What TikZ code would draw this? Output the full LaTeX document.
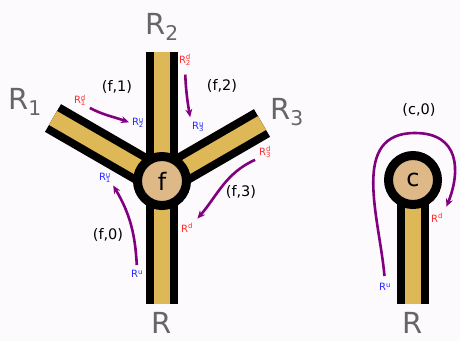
\documentclass[tikz,border=0pt]{standalone}
\usepackage{fontspec}
\setmainfont{DejaVu Sans}
\usetikzlibrary{arrows.meta, positioning}
\definecolor{pagebg}{RGB}{252,250,252}
\definecolor{bartan}{RGB}{222,183,86}
\definecolor{nodetan}{RGB}{222,184,135}
\definecolor{labgrey}{RGB}{102,102,102}
\definecolor{flowpurple}{RGB}{128,0,128}
\definecolor{downred}{RGB}{255,45,45}
\definecolor{upblue}{RGB}{40,40,255}

\begin{document}
\begin{tikzpicture}[x=1pt, y=-1pt, >={Stealth[length=8pt, width=7pt]},
  leg/.style={draw=black, line width=32pt},
  legfill/.style={draw=bartan, line width=16pt},
  vertex/.style={circle, draw=black, line width=9pt, fill=nodetan, minimum size=49pt,
    inner sep=0pt, font=\fontsize{24}{24}\selectfont},
  big/.style={text=labgrey, inner sep=0pt, font=\fontsize{29}{29}\selectfont},
  tag/.style={inner sep=0pt, font=\fontsize{14.5}{14.5}\selectfont},
  dlab/.style={text=downred, inner sep=1pt, font=\fontsize{10}{10}\selectfont},
  ulab/.style={dlab, text=upblue},
  flow/.style={->, draw=flowpurple, line width=2.6pt}]
  \path[use as bounding box, fill=pagebg] (0,0) rectangle (460,341);

  % the face f and its four legs
  \coordinate (fc) at (162,181);
  \coordinate (e0) at (162,304);
  \coordinate (e1) at (53,118);
  \coordinate (e2) at (162,52);
  \coordinate (e3) at (262,123);
  % the cap c and its leg
  \coordinate (cc) at (413,180);
  \coordinate (e4) at (413,304);
  \foreach \e in {e0,e1,e2,e3} \draw[leg] (fc) -- (\e);
  \foreach \e in {e0,e1,e2,e3} \draw[legfill] (fc) -- (\e);
  \draw[leg] (cc) -- (e4);
  \draw[legfill] (cc) -- (e4);
  \node[vertex] (f) at (fc) {f};
  \node[vertex] (c) at (cc) {c};

  \node[big] (r0) at (162,323) {R};
  \node[big] (r1) at (25,102) {R\textsubscript{1}};
  \node[big] (r2) at (162,27) {R\textsubscript{2}};
  \node[big] (r3) at (287,112) {R\textsubscript{3}};
  \node[big] (rc) at (413,323) {R};

  \node[tag] (t0) at (108,235) {(f,0)};
  \node[tag] (t1) at (117,87) {(f,1)};
  \node[tag] (t2) at (222,86) {(f,2)};
  \node[tag] (t3) at (241,192) {(f,3)};
  \node[tag] (tc) at (419,110) {(c,0)};

  \node[dlab] (r1d) at (80,100) {R\rlap{\textsuperscript{d}}\textsubscript{1}};
  \node[ulab] (r2u) at (138,123) {R\rlap{\textsuperscript{u}}\textsubscript{2}};
  \node[dlab] (r2d) at (185,60) {R\rlap{\textsuperscript{d}}\textsubscript{2}};
  \node[ulab] (r3u) at (198,127) {R\rlap{\textsuperscript{u}}\textsubscript{3}};
  \node[dlab] (r3d) at (265,152) {R\rlap{\textsuperscript{d}}\textsubscript{3}};
  \node[dlab] (rd) at (187,228) {R\textsuperscript{d}};
  \node[ulab] (r1u) at (105,178) {R\rlap{\textsuperscript{u}}\textsubscript{1}};
  \node[ulab] (ru) at (137,274) {R\textsuperscript{u}};
  \node[dlab] (crd) at (437,218) {R\textsuperscript{d}};
  \node[ulab] (cru) at (385,287) {R\textsuperscript{u}};
  \coordinate (ctop) at (415,133);

  \draw[flow, shorten <=3pt, shorten >=2pt] (r1d.south east) to[out=-28, in=160] (r2u.west);
  \draw[flow, shorten <=8pt, shorten >=4pt] (r2d.south) to[out=-88, in=100] (r3u.north west);
  \draw[flow, shorten <=3pt, shorten >=5pt] (r3d.south west) to[out=-156, in=49] (rd.north east);
  \draw[flow, shorten <=4pt, shorten >=2pt] (ru.north) to[out=93, in=-59] (r1u.south east);
  \draw[flow, shorten <=6pt, shorten >=6pt] (cru.north) to[out=95, in=180, looseness=1.1] (ctop)
    to[out=0, in=68, looseness=1.35] (crd.north east);
\end{tikzpicture}
\end{document}
